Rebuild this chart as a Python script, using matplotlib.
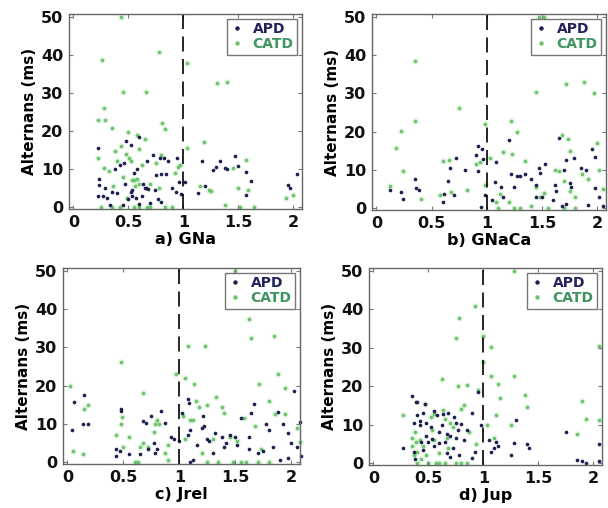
import numpy as np
import matplotlib
matplotlib.use("Agg")
import matplotlib.pyplot as plt
from matplotlib.lines import Line2D

# (x, alternans in ms) pairs for each parameter sweep
gna_apd = [(0.22, 15.5), (0.23, 7.5), (0.23, 5.7), (0.22, 3), (0.27, 2.8), (0.29, 5), (0.33, 0.5),
           (0.35, 4), (0.38, 10), (0.40, 3.8), (0.42, 11), (0.45, 0.5), (0.47, 6), (0.48, 17.5),
           (0.50, 2), (0.52, 16.3), (0.53, 4.5), (0.53, 3), (0.55, 9), (0.57, 2.5), (0.58, 10),
           (0.60, 18.5), (0.60, 0.8), (0.63, 6), (0.65, 5), (0.67, 12), (0.68, 4.8), (0.70, 1),
           (0.72, 13.8), (0.75, 8.5), (0.77, 2.2), (0.79, 13), (0.80, 8.8), (0.80, 1.3), (0.82, 13),
           (0.84, 8.8), (0.86, 12.2), (0.90, 4.9), (0.93, 4), (0.94, 12.8), (0.96, 6.5), (0.98, 3.5),
           (1.02, 6.5), (1.13, 3.8), (1.17, 12), (1.20, 5.5), (1.27, 9.8), (1.30, 10.5), (1.33, 12.2),
           (1.38, 10.3), (1.40, 10), (1.47, 13.4), (1.50, 10.8), (1.57, 9.3), (1.57, 3.3), (1.62, 6.8),
           (1.95, 5.8), (1.97, 5), (2.03, 8.8), (0.62, 3), (0.46, 11.5), (0.31, 2.5), (0.52, 4),
           (0.66, 5), (0.74, 4.5)]
gna_catd = [(0.22, 22.8), (0.26, 38.8), (0.28, 26.2), (0.29, 22.8), (0.22, 13), (0.28, 10.2),
            (0.35, 20.8), (0.38, 14.8), (0.43, 50), (0.45, 30.2), (0.50, 19.8), (0.52, 12), (0.55, 7),
            (0.58, 19), (0.60, 15.2), (0.62, 11), (0.66, 30.3), (0.65, 17.8), (0.58, 7.5), (0.53, 7),
            (0.49, 2.5), (0.45, 8), (0.43, 16), (0.48, 14), (0.32, 9.5), (0.40, 12), (0.36, 5.5),
            (0.70, 6), (0.75, 11.5), (0.78, 40.8), (0.80, 13.8), (0.81, 22), (0.83, 20.5), (0.78, 5),
            (0.83, 0), (0.90, 0), (0.92, 9), (0.95, 10.5), (0.97, 11), (1.03, 37.8), (1.03, 15.5),
            (1.19, 17), (1.15, 5.5), (1.23, 4.5), (1.25, 4.3), (1.31, 32.6), (1.40, 33), (1.38, 0.5),
            (1.45, 10.3), (1.50, 5), (1.52, 0), (1.57, 12.3), (1.59, 4.5), (1.64, 0), (1.93, 2.5),
            (2.00, 3.3), (0.25, 0), (0.35, 0), (0.42, 0), (0.55, 0), (0.60, 0), (0.67, 0), (0.70, 0),
            (0.60, 6), (0.56, 5.5), (0.51, 13)]

gnaca_apd = [(0.12, 4.8), (0.22, 4.2), (0.24, 2.5), (0.35, 7.7), (0.36, 5.2), (0.39, 4.8), (0.60, 1.5),
             (0.61, 3.8), (0.65, 7), (0.67, 10.5), (0.72, 13), (0.70, 3.5), (0.80, 10), (0.90, 13.8),
             (0.92, 16.2), (0.96, 15.5), (0.92, 9.8), (0.97, 12.8), (0.98, 3.5), (0.95, 0.3), (1.05, 2),
             (1.07, 6.8), (1.08, 12), (1.13, 5.5), (1.15, 3), (1.20, 17.8), (1.22, 9), (1.25, 5.5),
             (1.27, 8.5), (1.30, 8.5), (1.35, 9), (1.40, 7.5), (1.45, 6), (1.47, 10.5), (1.48, 9.2),
             (1.53, 11.5), (1.50, 3), (1.60, 2), (1.63, 4.5), (1.65, 18.3), (1.70, 10), (1.72, 12.5),
             (1.75, 6.5), (1.76, 5.5), (1.79, 13), (1.68, 0.5), (1.72, 1), (1.85, 10.5), (1.90, 10),
             (1.92, 0.8), (1.95, 15.5), (1.98, 13.5), (1.98, 5.2), (2.02, 3), (2.05, 0.5), (1.62, 6),
             (1.45, 3)]
gnaca_catd = [(0.12, 5.8), (0.18, 15.8), (0.22, 20.3), (0.24, 9.8), (0.35, 38.5), (0.35, 22.8),
              (0.40, 2.5), (0.58, 3.5), (0.60, 12.2), (0.66, 12.5), (0.68, 4.3), (0.75, 26.2),
              (0.82, 4.8), (0.90, 11.5), (0.98, 22), (0.94, 12), (0.98, 6), (1.03, 13), (1.08, 1.5),
              (1.12, 3.8), (1.15, 14.8), (1.20, 1.5), (1.22, 22.8), (1.23, 14.2), (1.27, 19.8), (1.30, 0),
              (1.35, 12.2), (1.40, 0.5), (1.45, 30.3), (1.45, 5.5), (1.48, 3), (1.52, 4), (1.55, 0),
              (1.65, 9.8), (1.68, 19.2), (1.70, 7), (1.72, 32.5), (1.74, 18), (1.75, 15), (1.75, 4.5),
              (1.80, 0), (1.86, 9), (1.88, 33), (1.92, 7.5), (1.97, 30.2), (2.00, 17), (2.02, 10),
              (2.05, 5), (1.62, 10), (1.10, 0), (1.25, 0), (1.70, 0), (1.47, 50), (1.52, 50), (1.80, 3)]

jrel_apd = [(0.04, 8.5), (0.06, 15.8), (0.14, 10), (0.15, 17.5), (0.18, 10), (0.43, 3.5), (0.43, 1.5),
            (0.48, 13.3), (0.48, 13.8), (0.47, 3), (0.55, 2), (0.65, 2), (0.68, 10.8), (0.70, 10.3),
            (0.75, 12), (0.72, 3.5), (0.77, 5), (0.78, 2.5), (0.80, 3.5), (0.84, 13.5), (0.87, 10.3),
            (0.93, 6.5), (0.95, 6), (1.00, 5.5), (1.02, 12.8), (1.08, 16.5), (1.09, 15.5), (1.08, 7),
            (1.10, 8.5), (1.10, 0), (1.12, 0.5), (1.16, 4.5), (1.20, 9), (1.21, 12), (1.22, 9.5),
            (1.27, 5.5), (1.30, 2.5), (1.32, 7.5), (1.38, 6.5), (1.40, 4), (1.42, 5), (1.45, 7),
            (1.50, 6.5), (1.52, 4.5), (1.55, 11.5), (1.62, 6.5), (1.64, 12.8), (1.67, 15.3), (1.70, 2.5),
            (1.75, 2.8), (1.78, 10), (1.80, 8.5), (1.84, 4), (1.88, 13), (1.90, 0.5), (1.93, 10),
            (1.97, 7.5), (2.00, 5), (2.03, 18.5), (2.05, 4), (2.08, 10.5), (2.09, 1.5), (1.25, 6),
            (1.62, 3.5), (1.97, 1)]
jrel_catd = [(0.02, 20), (0.05, 3), (0.14, 2), (0.15, 14), (0.18, 15), (0.43, 7), (0.48, 26.3),
             (0.48, 10), (0.49, 11.8), (0.50, 4), (0.55, 6.5), (0.60, 0), (0.63, 0), (0.65, 4),
             (0.68, 5), (0.68, 18), (0.72, 4), (0.77, 8), (0.78, 10), (0.80, 11), (0.82, 10), (0.87, 2.5),
             (0.90, 4.5), (0.97, 23), (1.05, 22), (1.03, 12), (1.05, 6), (1.08, 30.3), (1.10, 11),
             (1.12, 11), (1.13, 20.5), (1.15, 16), (1.18, 14.5), (1.23, 30.5), (1.25, 15), (1.20, 2.5),
             (1.30, 6), (1.33, 17), (1.38, 14.5), (1.40, 12.8), (1.45, 6.5), (1.48, 0), (1.50, 50),
             (1.52, 5.5), (1.58, 11.5), (1.60, 0), (1.62, 37.5), (1.64, 32.5), (1.68, 9.5), (1.71, 20.5),
             (1.73, 3.5), (1.80, 16), (1.80, 0), (1.85, 33), (1.86, 12.5), (1.88, 23), (1.95, 19.5),
             (1.95, 12.5), (2.05, 9), (2.08, 5.2), (1.25, 0), (1.35, 0), (0.90, 0.5), (1.55, 0), (1.70, 0)]

jup_apd = [(0.27, 4), (0.35, 17.5), (0.37, 10.5), (0.37, 3), (0.38, 1), (0.39, 15.8), (0.40, 16),
           (0.40, 12.5), (0.42, 10), (0.42, 11), (0.43, 5.5), (0.45, 13), (0.47, 15.5), (0.48, 10.5),
           (0.48, 7), (0.50, 5.5), (0.52, 9.3), (0.53, 6.3), (0.55, 13.5), (0.55, 4.5), (0.58, 12.5),
           (0.60, 5.3), (0.62, 10), (0.63, 12.8), (0.65, 5.5), (0.67, 7.5), (0.67, 2.5), (0.68, 13),
           (0.70, 7), (0.70, 1.5), (0.72, 3.8), (0.75, 10.5), (0.75, 6.5), (0.77, 8.5), (0.78, 2),
           (0.80, 10.3), (0.82, 6), (0.85, 8.5), (0.90, 13), (0.92, 2.8), (0.90, 1.2), (0.95, 18.5),
           (0.98, 10), (1.05, 6), (1.07, 3), (1.10, 4), (1.12, 5.5), (1.13, 4.5), (1.25, 2), (1.28, 5.3),
           (1.30, 11.3), (1.40, 5), (1.42, 3.8), (1.75, 8), (1.85, 0.8), (1.90, 0.5), (1.93, 0),
           (2.05, 5), (2.05, 0.5), (0.45, 3.5), (0.60, 8), (0.73, 12)]
jup_catd = [(0.27, 12.5), (0.35, 6.5), (0.35, 4.5), (0.37, 2), (0.38, 8), (0.39, 5.5), (0.40, 3),
            (0.42, 6), (0.43, 1), (0.45, 4.5), (0.47, 15.5), (0.48, 2), (0.50, 0), (0.52, 12),
            (0.53, 8.5), (0.55, 6), (0.57, 0), (0.60, 2.5), (0.62, 22), (0.63, 13.8), (0.65, 11.5),
            (0.67, 6.5), (0.68, 4), (0.70, 10.5), (0.72, 9.5), (0.75, 32.5), (0.77, 20), (0.78, 37.7),
            (0.75, 0), (0.80, 14), (0.82, 15), (0.85, 20.3), (0.87, 8), (0.92, 40.8), (0.93, 5),
            (0.95, 19), (1.00, 33), (1.00, 26.3), (1.03, 10), (1.07, 30.2), (1.07, 22.8), (1.10, 6.5),
            (1.12, 12.5), (1.13, 20.5), (1.15, 17), (1.25, 10), (1.28, 22.8), (1.28, 50), (1.38, 17.8),
            (1.40, 14.7), (1.85, 7.5), (1.90, 16.2), (1.93, 11.5), (2.05, 30.5), (2.05, 11.3),
            (0.55, 12.8), (0.40, 0), (0.60, 0), (0.85, 0), (0.80, 0), (0.65, 0)]

panels = [
    ("a)", "GNa", gna_apd, gna_catd, (69, 14, 302, 209)),
    ("b)", "GNaCa", gnaca_apd, gnaca_catd, (372, 14, 606, 210)),
    ("c)", "Jrel", jrel_apd, jrel_catd, (63, 268, 300, 464)),
    ("d)", "Jup", jup_apd, jup_catd, (369, 268, 602, 465)),
]

APD_COLOR = "#1c2150"
CATD_COLOR = "#6cc46c"
W, H = 608, 508

fig = plt.figure(figsize=(W / 100, H / 100), dpi=100)

for tag, name, apd, catd, (l, t, r, b) in panels:
    ax = fig.add_axes([l / W, 1 - b / H, (r - l) / W, (b - t) / H])
    apd = np.array(apd)
    catd = np.array(catd)
    # soft halo under the green dots
    ax.scatter(catd[:, 0], catd[:, 1], s=24, color=CATD_COLOR, alpha=0.15, lw=0, clip_on=False)
    ax.scatter(catd[:, 0], catd[:, 1], s=7, color=CATD_COLOR, lw=0, clip_on=False)
    ax.scatter(apd[:, 0], apd[:, 1], s=7, color=APD_COLOR, lw=0, clip_on=False)
    ax.axvline(1, color="black", lw=1.2, dashes=(9, 4.5))

    ax.set_xlim(-0.04, 2.08)
    ax.set_ylim(-0.5, 50.8)
    ax.set_xticks([0, 0.5, 1, 1.5, 2])
    ax.set_xticklabels(["0", "0.5", "1", "1.5", "2"])
    ax.set_yticks([0, 10, 20, 30, 40, 50])
    ax.tick_params(direction="in", length=3, width=0.8, color="#777777",
                   top=True, right=True, labelsize=11.5, pad=4)
    for lab in ax.get_xticklabels() + ax.get_yticklabels():
        lab.set_fontweight("bold")
        lab.set_color("#111111")
    for sp in ax.spines.values():
        sp.set_color("#666666")
        sp.set_linewidth(1.0)

    ax.set_xlabel(tag + " " + name, fontsize=11.5, fontweight="bold", labelpad=2)
    ax.set_ylabel("Alternans (ms)", fontsize=11, fontweight="bold", labelpad=3)

    handles = [Line2D([], [], ls="none", marker="o", ms=2.2, color=APD_COLOR),
               Line2D([], [], ls="none", marker="o", ms=2.2, color=CATD_COLOR)]
    leg = ax.legend(handles, ["APD", "CATD"], loc="upper right",
                    prop={"weight": "bold", "size": 10}, frameon=True, fancybox=False,
                    borderpad=0.25, handlelength=1.0, handletextpad=0.6, labelspacing=0.05,
                    borderaxespad=0.35)
    leg.get_frame().set_edgecolor("#555555")
    leg.get_frame().set_linewidth(1.0)
    leg.get_texts()[0].set_color("#23235e")
    leg.get_texts()[1].set_color("#3f9460")

fig.savefig("out.png", dpi=100)
